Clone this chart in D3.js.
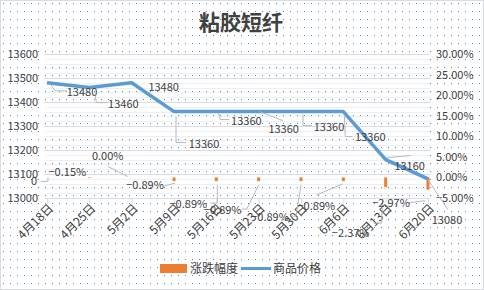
<!DOCTYPE html>
<html>
<head>
<meta charset="utf-8">
<script src="https://cdn.jsdelivr.net/npm/d3@7"></script>
<style>
  body { margin: 0; background: #fff; }
  text { font-family: "Noto Sans CJK SC", "Noto Sans", sans-serif; fill: #404040; }
</style>
</head>
<body>
<div id="chart"></div>
<script>
// data
var dates = ["4月18日", "4月25日", "5月2日", "5月9日", "5月16日", "5月23日", "5月30日", "6月6日", "6月13日", "6月20日"];
var prices = [13480, 13460, 13480, 13360, 13360, 13360, 13360, 13360, 13160, 13080];
var changes = [0, -0.0015, 0.0000, -0.0089, -0.0089, -0.0089, -0.0089, -0.0089, -0.0237, -0.0297];
var priceTicks = [13000, 13100, 13200, 13300, 13400, 13500, 13600];
var pctTicks = [-0.05, 0, 0.05, 0.10, 0.15, 0.20, 0.25, 0.30];

// where Excel put each data label (centre, offset from its point) and its leader line
var priceLabelPos = [
    { dx: 35, dy: 9, lead: [[3, 1], [8, 8], [19, 8]] },
    { dx: 34, dy: 17, lead: [[6, 8], [7, 15], [18, 15]] },
    { dx: 32, dy: 4, lead: null },
    { dx: 30, dy: 33, lead: [[2, 5], [2, 31], [12, 31]] },
    { dx: 30, dy: 10, lead: [[2, 1], [4, 8], [13, 8]] },
    { dx: 25, dy: 18, lead: [[1, 0], [24, 9]] },
    { dx: 28, dy: 16, lead: [[2, 3], [2, 14], [11, 14]] },
    { dx: 27, dy: 26, lead: [[1, 3], [2, 25], [9, 25]] },
    { dx: 24, dy: 7, lead: [[1, -2], [25, -4]] },
    { dx: 19, dy: 41, lead: [[0, 1], [20, 31]] }
];
var pctLabelPos = [
    { dx: -13, dy: 4, lead: [[1, 0], [1, 4], [-6, 4]] },
    { dx: -22, dy: -6, lead: null },
    { dx: -24, dy: -21, lead: [[-24, -11], [-4, -1]] },
    { dx: -29, dy: 4, lead: [[-10, 5], [1, 2]] },
    { dx: -28, dy: 23, lead: [[1, 4], [1, 22], [-6, 22]] },
    { dx: -36, dy: 29, lead: [[0, 4], [-12, 28], [-17, 28]] },
    { dx: -31, dy: 36, lead: [[0, 4], [-5, 35], [-9, 35]] },
    { dx: -27, dy: 25, lead: [[-1, 3], [-27, 14]] },
    { dx: -35, dy: 46, lead: [[-3, 12], [-4, 36], [-12, 36]] },
    { dx: -37, dy: 14, lead: [[-3, 11], [-19, 13]] }
];

var width = 484, height = 290;

var svg = d3.select("#chart")
    .append("svg")
    .attr("width", width)
    .attr("height", height);

// dotted background like the Excel pattern fill
var pat = svg.append("defs").append("pattern")
    .attr("id", "dots")
    .attr("patternUnits", "userSpaceOnUse")
    .attr("width", 7)
    .attr("height", 8);
pat.append("rect").attr("width", 7).attr("height", 8).attr("fill", "#fff");
pat.append("rect").attr("x", 3).attr("y", 3).attr("width", 1).attr("height", 1).attr("fill", "#4a86c8");

svg.append("rect")
    .attr("x", 0.5).attr("y", 0.5)
    .attr("width", width - 1).attr("height", height - 1)
    .attr("fill", "url(#dots)")
    .attr("stroke", "#d9dde3");

var plotL = 45, plotR = 430;

var x = d3.scalePoint().domain(dates).range([47, 428]);
var yL = d3.scaleLinear().domain([13000, 13600]).range([198, 54]);
var yR = d3.scaleLinear().domain([-0.05, 0.30]).range([198, 54]);

// minor then major gridlines
svg.append("g")
    .selectAll("line")
    .data(d3.range(13020, 13600, 20).filter(function (v) { return v % 100 != 0; }))
    .enter()
    .append("line")
    .attr("x1", plotL).attr("x2", plotR)
    .attr("y1", function (d) { return Math.round(yL(d)) + 0.5; })
    .attr("y2", function (d) { return Math.round(yL(d)) + 0.5; })
    .attr("stroke", "#eef0f4");

svg.append("g")
    .selectAll("line")
    .data(priceTicks)
    .enter()
    .append("line")
    .attr("x1", plotL).attr("x2", plotR)
    .attr("y1", function (d) { return Math.round(yL(d)) + 0.5; })
    .attr("y2", function (d) { return Math.round(yL(d)) + 0.5; })
    .attr("stroke", "#d9dce2");

// left axis
var gl = svg.append("g")
    .attr("transform", "translate(" + plotL + ",0)")
    .call(d3.axisLeft(yL).tickValues(priceTicks).tickSize(0).tickPadding(7).tickFormat(d3.format("d")));
gl.select(".domain").remove();
gl.selectAll("text").style("font-size", "11px").attr("fill", "#404040");

// right axis
var gr = svg.append("g")
    .attr("transform", "translate(" + plotR + ",0)")
    .call(d3.axisRight(yR).tickValues(pctTicks).tickSize(0).tickPadding(6).tickFormat(d3.format(".2%")));
gr.select(".domain").remove();
gr.selectAll("text").style("font-size", "11px").attr("fill", "#404040");

// bottom axis ticks
var gb = svg.append("g")
    .attr("transform", "translate(0," + (yL(13000) + 0.5) + ")")
    .call(d3.axisBottom(x).tickSize(5).tickSizeOuter(0).tickFormat(""));
gb.select(".domain").remove();
gb.selectAll("line").attr("stroke", "#d9dce2");

// rotated category labels
svg.append("g")
    .selectAll("text")
    .data(dates)
    .enter()
    .append("text")
    .attr("transform", function (d) { return "translate(" + (x(d) + 4) + ",206) rotate(-45)"; })
    .attr("text-anchor", "end")
    .attr("dy", "0.35em")
    .style("font-size", "12px")
    .text(function (d) { return d; });

// change bars
svg.append("g")
    .selectAll("rect")
    .data(changes)
    .enter()
    .append("rect")
    .attr("x", function (d, i) { return x(dates[i]) - 1.5; })
    .attr("y", function (d) { return Math.min(yR(0), yR(d)); })
    .attr("width", 3)
    .attr("height", function (d) { return Math.abs(yR(d) - yR(0)); })
    .attr("fill", "#ed7d31");

// price line
var line = d3.line()
    .x(function (d, i) { return x(dates[i]); })
    .y(function (d) { return yL(d); });

svg.append("path")
    .datum(prices)
    .attr("d", line)
    .attr("fill", "none")
    .attr("stroke", "#5b9bd5")
    .attr("stroke-width", 3.5)
    .attr("stroke-linejoin", "round");

// data labels with leader lines
function addLabels(values, pos, yScale, fmt) {
    var g = svg.append("g");
    values.forEach(function (v, i) {
        var px = x(dates[i]), py = yScale(v);
        var p = pos[i];
        if (p.lead) {
            g.append("polyline")
                .attr("points", p.lead.map(function (q) { return (px + q[0]) + "," + (py + q[1]); }).join(" "))
                .attr("fill", "none")
                .attr("stroke", "#b4b8c0")
                .attr("stroke-width", 1);
        }
        g.append("text")
            .attr("x", px + p.dx)
            .attr("y", py + p.dy)
            .attr("dy", "0.35em")
            .attr("text-anchor", "middle")
            .style("font-size", "11px")
            .text(fmt(v, i));
    });
}

addLabels(prices, priceLabelPos, yL, function (v) { return v; });
addLabels(changes, pctLabelPos, yR, function (v, i) { return i == 0 ? "0" : d3.format(".2%")(v); });

// title
svg.append("text")
    .attr("x", 241)
    .attr("y", 23)
    .attr("dy", "0.35em")
    .attr("text-anchor", "middle")
    .style("font-size", "21px")
    .style("font-weight", "bold")
    .text("粘胶短纤");

// legend
svg.append("rect")
    .attr("x", 160).attr("y", 264)
    .attr("width", 27).attr("height", 9)
    .attr("fill", "#ed7d31");
svg.append("text")
    .attr("x", 190).attr("y", 269).attr("dy", "0.35em")
    .style("font-size", "12px")
    .text("涨跌幅度");
svg.append("line")
    .attr("x1", 241).attr("x2", 271)
    .attr("y1", 268.5).attr("y2", 268.5)
    .attr("stroke", "#5b9bd5")
    .attr("stroke-width", 3);
svg.append("text")
    .attr("x", 273).attr("y", 269).attr("dy", "0.35em")
    .style("font-size", "12px")
    .text("商品价格");
</script>
</body>
</html>
